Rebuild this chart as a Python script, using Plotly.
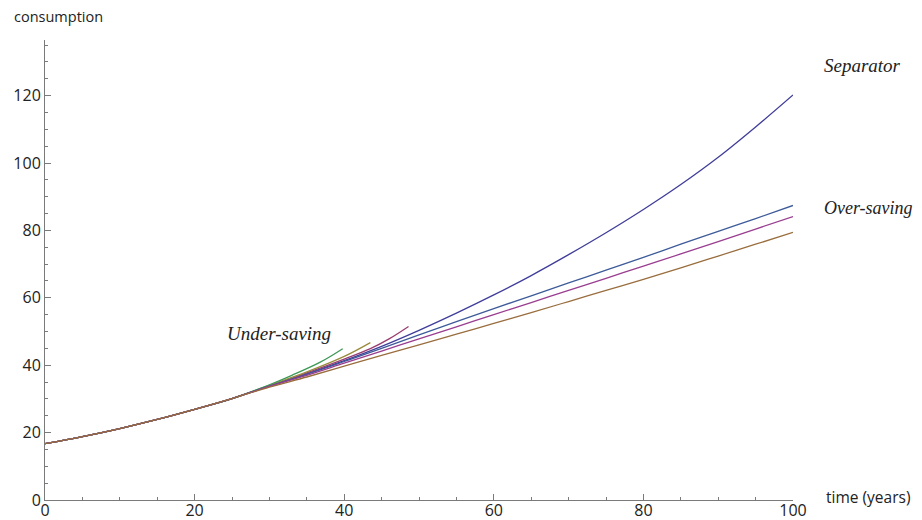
import colorsys
import plotly.graph_objects as go

# ---- data ----
t_common = [0, 5, 10, 15, 20, 25]
c_common = [16.7, 18.8, 21.2, 23.9, 26.9, 30.1]

t_long = [30, 35, 40, 45, 50, 55, 60, 65, 70, 75, 80, 85, 90, 95, 100]
c_separator = [33.85, 37.45, 41.35, 45.6, 50.35, 55.45, 60.85, 66.6, 72.8, 79.3, 86.2, 93.6, 101.7, 110.7, 120.2]
c_over1 = [33.8, 37.3, 41.1, 45.0, 49.0, 52.9, 56.8, 60.6, 64.4, 68.2, 72.0, 75.9, 79.7, 83.5, 87.4]
c_over2 = [33.7, 37.0, 40.6, 44.2, 47.8, 51.4, 55.0, 58.6, 62.2, 65.8, 69.4, 73.0, 76.7, 80.4, 84.1]
c_over3 = [33.5, 36.5, 39.7, 42.9, 46.0, 49.2, 52.4, 55.6, 58.9, 62.2, 65.5, 68.9, 72.4, 75.9, 79.4]

t_under1 = [30, 35, 40, 43.5, 46, 48.6]
c_under1 = [33.9, 37.7, 41.8, 44.9, 47.8, 51.5]

t_under2 = [30, 35, 40, 43.5]
c_under2 = [34.0, 38.0, 42.6, 46.7]

t_under3 = [30, 33, 36.8, 39.8]
c_under3 = [34.2, 37.0, 40.9, 44.9]

x_ticks = [0, 20, 40, 60, 80, 100]
y_ticks = [0, 20, 40, 60, 80, 100, 120]

# ---- styles ----
def hue(h, s=0.6, v=0.6):
    r, g, b = colorsys.hsv_to_rgb(h, s, v)
    return "rgb(%d,%d,%d)" % (round(r * 255), round(g * 255), round(b * 255))

series = [
    (t_long, c_separator, hue(0.67)),
    (t_under1, c_under1, hue(0.906)),
    (t_under2, c_under2, hue(0.142)),
    (t_under3, c_under3, hue(0.378)),
    (t_long, c_over1, hue(0.614)),
    (t_long, c_over2, hue(0.850)),
    (t_long, c_over3, hue(0.0864)),
]

fig = go.Figure()
for tt, cc, col in series:
    fig.add_trace(go.Scatter(
        x=t_common + tt, y=c_common + cc, mode="lines",
        line=dict(color=col, width=1.3, shape="spline", smoothing=1.0),
        showlegend=False, hoverinfo="skip", cliponaxis=False))

axis_col = "#7a7a7a"
tick_font = dict(family="Open Sans", size=16, color="#222222")

# page body has an 8px margin: figure is placed at (8, 8)
fig.update_layout(
    width=914, height=512,
    margin=dict(l=37, r=129, t=32, b=20, autoexpand=False),
    paper_bgcolor="white", plot_bgcolor="white",
    xaxis=dict(range=[0, 100], showline=True, linecolor=axis_col, linewidth=1,
               automargin=False, ticklabelstandoff=-4,
               showgrid=False, zeroline=False, ticks="inside", ticklen=6,
               tickcolor=axis_col, tickvals=x_ticks, tickfont=tick_font,
               minor=dict(ticks="inside", ticklen=3, dtick=5, tickcolor=axis_col, showgrid=False)),
    yaxis=dict(range=[0, 136.5], showline=True, linecolor=axis_col, linewidth=1,
               automargin=False,
               showgrid=False, zeroline=False, ticks="inside", ticklen=6,
               tickcolor=axis_col, tickvals=y_ticks, tickfont=tick_font,
               minor=dict(ticks="inside", ticklen=3, dtick=5, tickcolor=axis_col, showgrid=False)),
)

serif = dict(family="Liberation Serif", size=19, color="#222222")
fig.add_annotation(x=1.039, y=0.945, text="<i>Separator</i>", showarrow=False,
                   xanchor="left", yanchor="middle", font=serif, xref="paper", yref="paper")
fig.add_annotation(x=1.039, y=0.634, text="<i>Over-saving</i>", showarrow=False,
                   xanchor="left", yanchor="middle", xref="paper", yref="paper",
                   font=dict(family="Liberation Serif", size=18, color="#222222"))
fig.add_annotation(x=0.2406, y=0.363, text="<i>Under-saving</i>", showarrow=False,
                   xanchor="left", yanchor="middle", font=serif, xref="paper", yref="paper")
fig.add_annotation(x=-0.0445, y=1.05, text="consumption", showarrow=False,
                   xanchor="left", yanchor="middle", xref="paper", yref="paper",
                   font=dict(family="Open Sans", size=14.5, color="#222222"))
fig.add_annotation(x=1.0414, y=0.0065, text="time (years)", showarrow=False,
                   xanchor="left", yanchor="middle", xref="paper", yref="paper",
                   font=dict(family="Open Sans", size=15.5, color="#222222"))

fig.write_html("out.html", config={"displayModeBar": False})
